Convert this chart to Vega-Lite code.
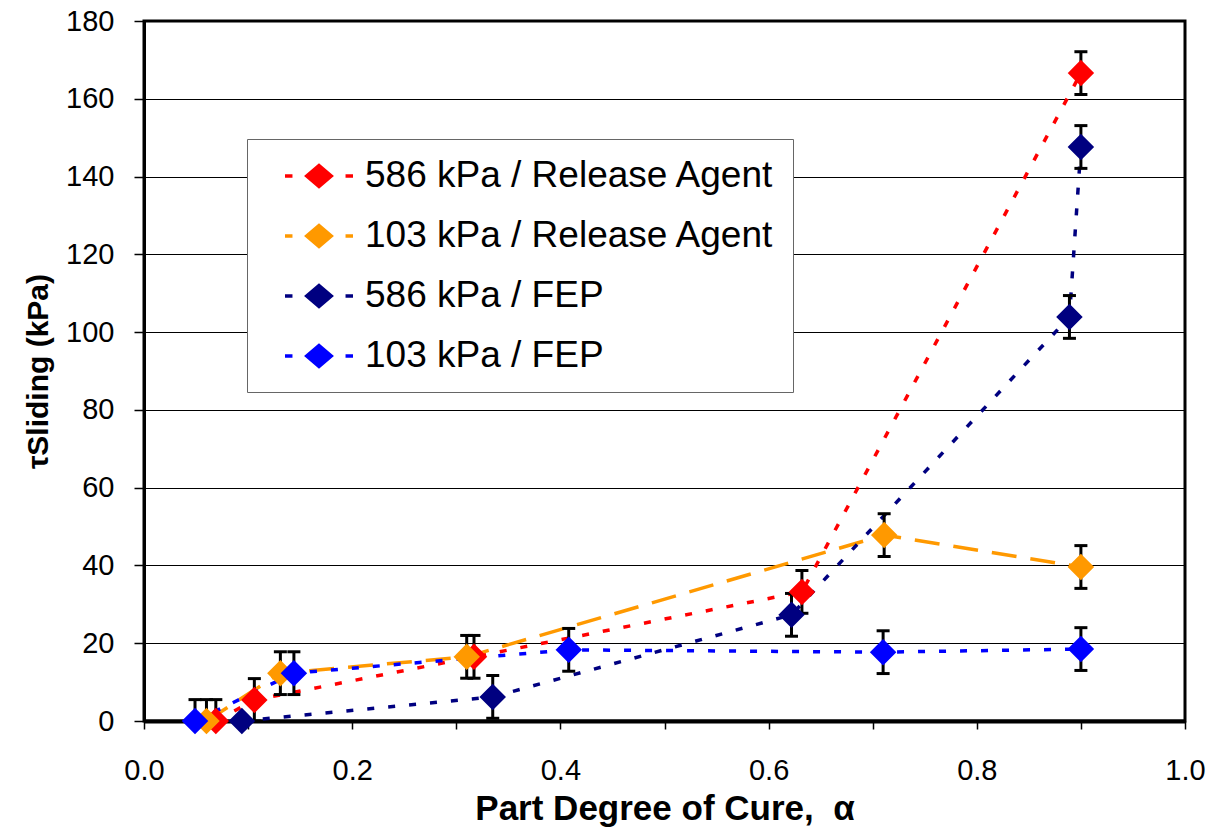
{
  "$schema": "https://vega.github.io/schema/vega-lite/v6.json",
  "width": 1041,
  "height": 700,
  "autosize": {"type": "none"},
  "padding": {"left": 144, "top": 21, "right": 27, "bottom": 111},
  "background": "white",
  "config": {
    "view": {"stroke": "black", "strokeWidth": 3},
    "font": "Liberation Sans"
  },
  "resolve": {"legend": {"color": "independent", "stroke": "independent"}},
  "data": {
    "values": [
      {"s": "586 kPa / Release Agent", "a": 0.069, "t": 0, "lo": 0, "hi": 5.5},
      {"s": "586 kPa / Release Agent", "a": 0.106, "t": 5.4, "lo": 0, "hi": 10.9},
      {"s": "586 kPa / Release Agent", "a": 0.317, "t": 16.5, "lo": 11, "hi": 22},
      {"s": "586 kPa / Release Agent", "a": 0.632, "t": 33.2, "lo": 27.7, "hi": 38.7},
      {"s": "586 kPa / Release Agent", "a": 0.9, "t": 166.6, "lo": 161.1, "hi": 172.1},
      {"s": "103 kPa / Release Agent", "a": 0.06, "t": 0, "lo": 0, "hi": 5.5},
      {"s": "103 kPa / Release Agent", "a": 0.131, "t": 12.3, "lo": 6.8, "hi": 17.8},
      {"s": "103 kPa / Release Agent", "a": 0.31, "t": 16.5, "lo": 11, "hi": 22},
      {"s": "103 kPa / Release Agent", "a": 0.711, "t": 47.8, "lo": 42.3, "hi": 53.3},
      {"s": "103 kPa / Release Agent", "a": 0.9, "t": 39.6, "lo": 34.1, "hi": 45.1},
      {"s": "586 kPa / FEP", "a": 0.094, "t": 0, "lo": null, "hi": null},
      {"s": "586 kPa / FEP", "a": 0.335, "t": 6.2, "lo": 0.7, "hi": 11.7},
      {"s": "586 kPa / FEP", "a": 0.622, "t": 27.3, "lo": 21.8, "hi": 32.8},
      {"s": "586 kPa / FEP", "a": 0.889, "t": 103.9, "lo": 98.4, "hi": 109.4},
      {"s": "586 kPa / FEP", "a": 0.9, "t": 147.6, "lo": 142.1, "hi": 153.1},
      {"s": "103 kPa / FEP", "a": 0.049, "t": 0, "lo": 0, "hi": 5.5},
      {"s": "103 kPa / FEP", "a": 0.144, "t": 12.3, "lo": 6.8, "hi": 17.8},
      {"s": "103 kPa / FEP", "a": 0.408, "t": 18.3, "lo": 12.8, "hi": 23.8},
      {"s": "103 kPa / FEP", "a": 0.71, "t": 17.7, "lo": 12.2, "hi": 23.2},
      {"s": "103 kPa / FEP", "a": 0.9, "t": 18.5, "lo": 13, "hi": 24}
    ]
  },
  "layer": [
    {
      "mark": {"type": "line", "strokeWidth": 3.5},
      "encoding": {
        "x": {
          "field": "a", "type": "quantitative",
          "scale": {"domain": [0, 1], "nice": false, "zero": false},
          "axis": {
            "title": "Part Degree of Cure,\u00a0\u00a0α",
            "values": [0, 0.1, 0.2, 0.3, 0.4, 0.5, 0.6, 0.7, 0.8, 0.9, 1.0],
            "labelExpr": "abs(datum.value*5 - round(datum.value*5)) < 0.001 ? format(datum.value, '.1f') : ''",
            "grid": false,
            "domainColor": "black", "domainWidth": 4,
            "tickColor": "black", "tickWidth": 1.5, "tickSize": 8,
            "labelFont": "Liberation Sans", "labelFontSize": 29, "labelColor": "black",
            "labelPadding": 27, "labelFlush": false, "labelOverlap": false,
            "titleFont": "Liberation Sans", "titleFontSize": 35, "titleFontWeight": "bold",
            "titleColor": "black", "titlePadding": 6
          }
        },
        "y": {
          "field": "t", "type": "quantitative",
          "scale": {"domain": [0, 180], "nice": false},
          "axis": {
            "title": "τSliding (kPa)",
            "values": [0, 20, 40, 60, 80, 100, 120, 140, 160, 180],
            "grid": true, "gridColor": "black", "gridWidth": 1,
            "domainColor": "black", "domainWidth": 3,
            "tickColor": "black", "tickWidth": 1.5, "tickSize": 10,
            "labelFont": "Liberation Sans", "labelFontSize": 29, "labelColor": "black",
            "labelPadding": 20, "labelFlush": false,
            "titleFont": "Liberation Sans", "titleFontSize": 30, "titleFontWeight": "bold",
            "titleColor": "black", "titlePadding": 12
          }
        },
        "color": {
          "field": "s", "type": "nominal",
          "scale": {
            "domain": ["586 kPa / Release Agent", "103 kPa / Release Agent", "586 kPa / FEP", "103 kPa / FEP"],
            "range": ["#FF0000", "#FF9900", "#000080", "#0000FF"]
          },
          "legend": null
        },
        "strokeDash": {
          "field": "s", "type": "nominal",
          "scale": {
            "domain": ["586 kPa / Release Agent", "103 kPa / Release Agent", "586 kPa / FEP", "103 kPa / FEP"],
            "range": [[7, 14], [25, 14], [7, 14], [7, 14]]
          },
          "legend": null
        }
      }
    },
    {
      "transform": [{"filter": "datum.hi != null"}],
      "mark": {"type": "rule", "color": "black", "strokeWidth": 3},
      "encoding": {
        "x": {"field": "a", "type": "quantitative"},
        "y": {"field": "lo", "type": "quantitative"},
        "y2": {"field": "hi"}
      }
    },
    {
      "transform": [{"filter": "datum.hi != null"}],
      "mark": {"type": "tick", "orient": "horizontal", "color": "black", "size": 13, "thickness": 3, "opacity": 1},
      "encoding": {
        "x": {"field": "a", "type": "quantitative"},
        "y": {"field": "lo", "type": "quantitative"}
      }
    },
    {
      "transform": [{"filter": "datum.hi != null"}],
      "mark": {"type": "tick", "orient": "horizontal", "color": "black", "size": 13, "thickness": 3, "opacity": 1},
      "encoding": {
        "x": {"field": "a", "type": "quantitative"},
        "y": {"field": "hi", "type": "quantitative"}
      }
    },
    {
      "mark": {"type": "point", "shape": "diamond", "filled": true, "size": 560, "opacity": 1},
      "encoding": {
        "x": {"field": "a", "type": "quantitative"},
        "y": {"field": "t", "type": "quantitative"},
        "color": {
          "field": "s", "type": "nominal",
          "legend": {
            "title": null, "orient": "none", "legendX": 103, "legendY": 118,
            "direction": "vertical",
            "labelFont": "Liberation Sans", "labelFontSize": 37, "labelColor": "black", "labelLimit": 1000,
            "symbolType": "M-2,0L-1.56,0M1.56,0L2,0M0,-0.62L0.72,0L0,0.62L-0.72,0Z",
            "symbolSize": 1156, "symbolStrokeWidth": 3.5, "symbolOffset": 35, "labelOffset": 27,
            "rowPadding": 23, "padding": 18, "strokeColor": "#666", "fillColor": "white"
          }
        },
        "stroke": {
          "field": "s", "type": "nominal",
          "scale": {
            "domain": ["586 kPa / Release Agent", "103 kPa / Release Agent", "586 kPa / FEP", "103 kPa / FEP"],
            "range": ["#FF0000", "#FF9900", "#000080", "#0000FF"]
          },
          "legend": {
            "title": null, "orient": "none", "legendX": 103, "legendY": 118,
            "direction": "vertical",
            "labelFont": "Liberation Sans", "labelFontSize": 37, "labelColor": "black", "labelLimit": 1000,
            "symbolType": "M-2,0L-1.56,0M1.56,0L2,0M0,-0.62L0.72,0L0,0.62L-0.72,0Z",
            "symbolSize": 1156, "symbolStrokeWidth": 3.5, "symbolOffset": 35, "labelOffset": 27,
            "rowPadding": 23, "padding": 18, "strokeColor": "#666", "fillColor": "white"
          }
        }
      }
    }
  ]
}
